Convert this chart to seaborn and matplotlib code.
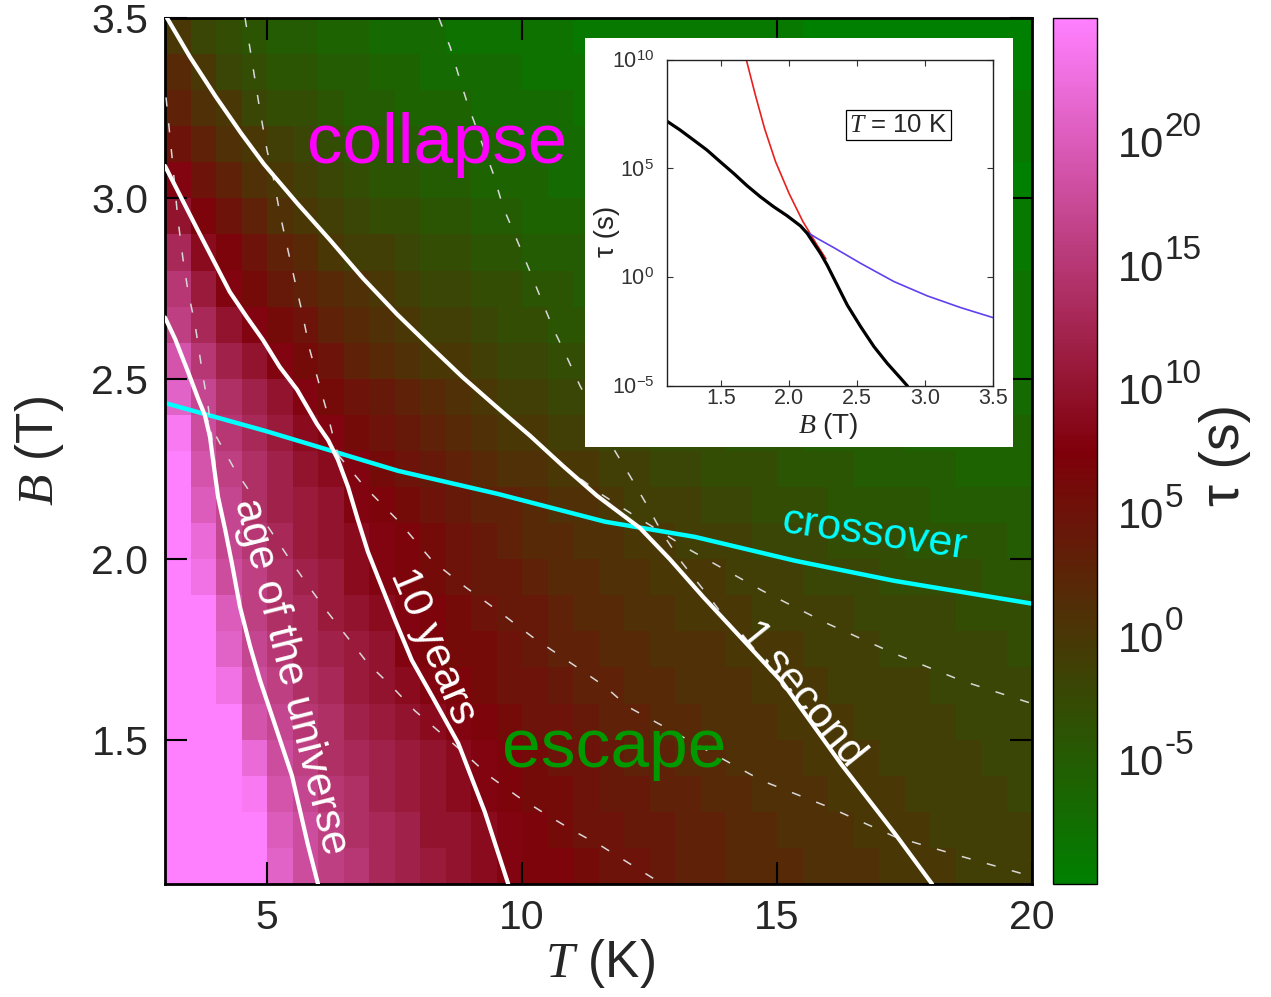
import numpy as np
import pandas as pd
import matplotlib
matplotlib.use("Agg")
import matplotlib.pyplot as plt
import seaborn as sns
from matplotlib.colors import LinearSegmentedColormap

# ---------------- data ----------------
# heat-map cells: temperature T (K) and field B (T) at the cell centres
T_cells = [3.25, 3.75, 4.25, 4.75, 5.25, 5.75, 6.25, 6.75, 7.25, 7.75, 8.25, 8.75,
           9.25, 9.75, 10.25, 10.75, 11.25, 11.75, 12.25, 12.75, 13.25, 13.75, 14.25,
           14.75, 15.25, 15.75, 16.25, 16.75, 17.25, 17.75, 18.25, 18.75, 19.25, 19.75]
B_cells = [3.45, 3.35, 3.25, 3.15, 3.05, 2.95, 2.85, 2.75, 2.65, 2.55, 2.45, 2.35,
           2.25, 2.15, 2.05, 1.95, 1.85, 1.75, 1.65, 1.55, 1.45, 1.35, 1.25, 1.15]
# log10 of the lifetime tau (s) in every cell, one row per B value (top row B = 3.45)
log10_tau = [
    [0, -2, -3, -4, -5, -5, -6, -6, -7, -7, -7, -8, -8, -8, -8, -8, -9, -9, -9, -9, -9, -9, -9, -9, -9, -10, -10, -10, -10, -10, -10, -10, -10, -10],
    [2, 0, -2, -3, -4, -4, -5, -5, -6, -6, -7, -7, -7, -7, -8, -8, -8, -8, -8, -9, -9, -9, -9, -9, -9, -9, -9, -9, -9, -10, -10, -10, -10, -10],
    [3, 1, 0, -2, -3, -3, -4, -5, -5, -6, -6, -6, -7, -7, -7, -7, -8, -8, -8, -8, -8, -8, -9, -9, -9, -9, -9, -9, -9, -9, -9, -9, -9, -9],
    [5, 3, 1, 0, -1, -2, -3, -4, -4, -5, -5, -6, -6, -6, -7, -7, -7, -7, -7, -8, -8, -8, -8, -8, -8, -8, -9, -9, -9, -9, -9, -9, -9, -9],
    [8, 5, 3, 1, 0, -1, -2, -3, -4, -4, -5, -5, -6, -6, -6, -7, -7, -7, -7, -8, -8, -8, -8, -8, -9, -9, -9, -9, -9, -9, -9, -9, -9, -10],
    [10, 7, 5, 3, 1, 0, -1, -2, -3, -3, -4, -4, -5, -5, -6, -6, -6, -6, -7, -7, -7, -7, -8, -8, -8, -8, -8, -8, -9, -9, -9, -9, -9, -9],
    [13, 9, 7, 5, 3, 2, 0, -1, -1, -2, -3, -3, -4, -4, -5, -5, -5, -6, -6, -6, -7, -7, -7, -7, -7, -8, -8, -8, -8, -8, -8, -8, -8, -9],
    [15, 11, 8, 6, 4, 3, 2, 1, 0, -1, -2, -2, -3, -3, -4, -4, -5, -5, -5, -6, -6, -6, -6, -7, -7, -7, -7, -7, -7, -8, -8, -8, -8, -8],
    [16, 13, 10, 8, 6, 5, 3, 2, 1, 0, -1, -1, -2, -3, -3, -4, -4, -4, -5, -5, -5, -6, -6, -6, -6, -7, -7, -7, -7, -7, -8, -8, -8, -8],
    [19, 15, 12, 10, 8, 6, 5, 3, 2, 1, 0, 0, -1, -2, -2, -3, -3, -4, -4, -4, -5, -5, -5, -6, -6, -6, -6, -7, -7, -7, -7, -7, -7, -8],
    [21, 17, 14, 12, 10, 8, 6, 5, 4, 3, 2, 1, 0, -1, -1, -2, -2, -3, -3, -4, -4, -4, -5, -5, -5, -6, -6, -6, -6, -6, -7, -7, -7, -7],
    [24, 18, 15, 13, 11, 9, 8, 6, 5, 4, 3, 2, 1, 0, 0, -1, -1, -2, -2, -3, -3, -3, -4, -4, -4, -5, -5, -5, -5, -6, -6, -6, -6, -6],
    [26, 19, 16, 14, 12, 10, 9, 8, 6, 5, 4, 3, 2, 1, 1, 0, 0, -1, -1, -2, -2, -3, -3, -3, -4, -4, -4, -5, -5, -5, -5, -6, -6, -6],
    [26, 20, 17, 14, 12, 11, 10, 8, 7, 6, 5, 4, 3, 3, 2, 1, 1, 0, -1, -1, -1, -2, -2, -3, -3, -3, -4, -4, -4, -4, -5, -5, -5, -5],
    [26, 22, 17, 15, 13, 11, 10, 9, 8, 7, 6, 5, 4, 3, 2, 2, 1, 1, 0, 0, -1, -1, -1, -2, -2, -2, -3, -3, -3, -4, -4, -4, -4, -5],
    [26, 23, 18, 16, 14, 12, 11, 9, 8, 7, 6, 5, 4, 4, 3, 2, 2, 1, 1, 0, 0, 0, -1, -1, -1, -2, -2, -2, -3, -3, -3, -3, -4, -4],
    [26, 25, 20, 16, 14, 13, 11, 10, 9, 8, 7, 6, 5, 4, 4, 3, 2, 2, 1, 1, 0, 0, 0, -1, -1, -1, -1, -2, -2, -2, -2, -3, -3, -3],
    [27, 26, 21, 17, 15, 13, 12, 11, 10, 8, 7, 6, 6, 5, 4, 3, 3, 2, 2, 1, 1, 1, 0, 0, 0, -1, -1, -1, -2, -2, -2, -2, -2, -3],
    [27, 26, 23, 18, 16, 14, 13, 11, 10, 9, 8, 7, 6, 5, 5, 4, 3, 3, 2, 2, 1, 1, 1, 0, 0, 0, -1, -1, -1, -1, -2, -2, -2, -2],
    [27, 26, 25, 19, 17, 15, 14, 12, 11, 10, 9, 8, 7, 6, 5, 5, 4, 3, 3, 2, 2, 1, 1, 1, 0, 0, 0, -1, -1, -1, -1, -2, -2, -2],
    [27, 27, 26, 22, 18, 16, 14, 13, 12, 11, 10, 9, 8, 7, 6, 5, 5, 4, 3, 3, 2, 2, 1, 1, 1, 0, 0, 0, -1, -1, -1, -1, -2, -2],
    [27, 27, 26, 24, 19, 17, 15, 14, 12, 11, 10, 9, 8, 7, 6, 6, 5, 4, 4, 3, 3, 2, 2, 1, 1, 1, 0, 0, 0, -1, -1, -1, -1, -2],
    [27, 27, 26, 25, 20, 18, 16, 14, 13, 12, 10, 10, 9, 8, 7, 6, 5, 5, 4, 4, 3, 3, 2, 2, 1, 1, 1, 0, 0, 0, -1, -1, -1, -1],
    [27, 27, 27, 25, 21, 18, 16, 15, 13, 12, 11, 10, 9, 8, 7, 7, 6, 5, 5, 4, 3, 3, 2, 2, 2, 1, 1, 1, 0, 0, 0, -1, -1, -1],
]
cbar_ticks = [-5, 0, 5, 10, 15, 20]
cbar_exponents = ["-5", "0", "5", "10", "15", "20"]

# solid white contours of the total lifetime: 1 second, 10 years, age of the universe
sec1_T = [3.04, 3.49, 4.0, 4.49, 4.94, 5.59, 6.24, 6.88, 7.55, 8.20, 8.84, 9.51, 10.16, 10.80,
          11.47, 12.31, 12.9, 13.55, 14.18, 15.10, 16.27, 17.31, 18.04]
sec1_B = [3.50, 3.392, 3.281, 3.181, 3.095, 2.987, 2.884, 2.779, 2.679, 2.590, 2.504, 2.421, 2.342,
          2.259, 2.176, 2.087, 2.0, 1.896, 1.80, 1.66, 1.43, 1.24, 1.10]
yr10_T = [3.0, 3.65, 4.27, 4.60, 4.92, 5.25, 5.59, 5.98, 6.2, 6.39, 6.59, 6.78, 6.98, 7.25, 7.51,
          7.84, 8.24, 8.75, 9.27, 9.73]
yr10_B = [3.09, 2.91, 2.741, 2.672, 2.608, 2.533, 2.470, 2.375, 2.33, 2.276, 2.20, 2.11, 2.02, 1.924,
          1.832, 1.72, 1.62, 1.49, 1.30, 1.10]
aou_T = [3.0, 3.2, 3.45, 3.65, 3.78, 3.88, 3.95, 4.04, 4.18, 4.31, 4.47, 4.67, 4.86, 5.10, 5.49, 5.80, 6.0]
aou_B = [2.67, 2.61, 2.52, 2.445, 2.40, 2.34, 2.267, 2.173, 2.082, 1.99, 1.868, 1.758, 1.666, 1.565,
         1.40, 1.21, 1.10]
# cyan crossover line
cross_T = [3.0, 4.96, 7.57, 9.53, 11.63, 13.39, 15.35, 17.31, 20.0]
cross_B = [2.433, 2.356, 2.245, 2.181, 2.104, 2.062, 1.996, 1.94, 1.877]

# dashed contours of the two separate mechanisms (collapse / escape)
col_1s_T = [3.04, 3.49, 4.0, 4.49, 4.94, 5.59, 6.24, 6.88, 7.55, 8.20, 8.84, 9.51, 10.16, 10.80,
            11.57, 12.18, 12.76, 13.29, 13.88, 14.71, 16.0, 17.31, 18.63, 20.0]
col_1s_B = [3.50, 3.392, 3.281, 3.181, 3.095, 2.987, 2.884, 2.779, 2.679, 2.590, 2.504, 2.421, 2.342,
            2.259, 2.179, 2.123, 2.073, 2.026, 1.979, 1.913, 1.821, 1.738, 1.663, 1.60]
esc_1s_T = [8.37, 8.59, 8.78, 8.94, 9.43, 9.63, 9.90, 10.12, 10.35, 10.61, 10.88, 11.14, 11.78, 12.12,
            12.45, 12.76, 13.14, 13.7, 14.18, 15.10, 16.27, 17.31, 18.04]
esc_1s_B = [3.50, 3.42, 3.33, 3.259, 3.071, 2.976, 2.885, 2.81, 2.73, 2.64, 2.56, 2.48, 2.31, 2.23,
            2.15, 2.07, 1.99, 1.89, 1.80, 1.66, 1.43, 1.24, 1.10]
col_10y_T = [3.0, 3.65, 4.27, 4.60, 4.92, 5.25, 5.59, 5.98, 6.27, 6.92, 7.57, 8.24, 8.88, 9.53, 10.2,
             11.18, 11.63, 12.08, 13.39, 14.71, 16.0, 17.31, 18.63, 20.0]
col_10y_B = [3.09, 2.91, 2.741, 2.672, 2.608, 2.533, 2.470, 2.375, 2.31, 2.20, 2.107, 1.996, 1.924,
             1.857, 1.785, 1.691, 1.647, 1.591, 1.489, 1.386, 1.314, 1.231, 1.176, 1.121]
esc_10y_T = [4.57, 4.86, 5.0, 5.12, 5.25, 5.41, 5.55, 5.69, 5.84, 6.0, 6.18, 6.35, 6.55, 6.78, 6.98,
             7.25, 7.51, 7.84, 8.24, 8.75, 9.27, 9.73]
esc_10y_B = [3.50, 3.245, 3.134, 3.06, 2.96, 2.857, 2.769, 2.683, 2.58, 2.497, 2.406, 2.31, 2.22, 2.11,
             2.02, 1.924, 1.832, 1.72, 1.62, 1.49, 1.30, 1.10]
col_aou_T = [3.0, 3.2, 3.45, 3.65, 3.78, 4.04, 4.37, 4.73, 5.02, 5.41, 5.78, 6.18, 6.57, 6.98, 7.45,
             7.90, 8.88, 9.37, 9.92, 10.45, 11.0, 11.57, 12.75]
col_aou_B = [2.67, 2.61, 2.52, 2.445, 2.40, 2.331, 2.248, 2.173, 2.090, 2.007, 1.932, 1.855, 1.785,
             1.711, 1.647, 1.580, 1.461, 1.398, 1.342, 1.295, 1.248, 1.204, 1.10]
esc_aou_T = [3.02, 3.14, 3.25, 3.35, 3.45, 3.59, 3.73, 3.85, 3.95, 4.04, 4.18, 4.31, 4.47, 4.67, 4.86,
             5.10, 5.49, 5.80, 6.0]
esc_aou_B = [3.28, 3.112, 2.946, 2.835, 2.744, 2.650, 2.52, 2.42, 2.30, 2.19, 2.082, 1.99, 1.868,
             1.758, 1.666, 1.565, 1.40, 1.21, 1.10]

# inset, T = 10 K: log10(tau / s) against B
ins_B_black = [1.10, 1.198, 1.297, 1.395, 1.493, 1.591, 1.690, 1.788, 1.886, 1.984, 2.083, 2.132,
               2.181, 2.230, 2.279, 2.353, 2.427, 2.525, 2.623, 2.721, 2.820, 2.869]
ins_logtau_black = [7.18, 6.77, 6.31, 5.85, 5.31, 4.78, 4.21, 3.70, 3.24, 2.83, 2.36, 2.02, 1.56,
                    1.10, 0.56, -0.36, -1.28, -2.27, -3.19, -3.96, -4.65, -5.0]
ins_B_red = [1.68, 1.685, 1.75, 1.82, 1.90, 2.0, 2.1, 2.2, 2.27]
ins_logtau_red = [10.12, 10.0, 8.41, 6.82, 5.31, 3.84, 2.57, 1.53, 0.85]
ins_B_blue = [2.107, 2.205, 2.328, 2.525, 2.770, 3.016, 3.262, 3.50]
ins_logtau_blue = [2.17, 1.79, 1.36, 0.64, -0.20, -0.86, -1.40, -1.86]

# ---------------- figure ----------------
sns.set_theme(style="ticks")
plt.rcParams.update({
    "font.family": ["Liberation Sans", "DejaVu Sans"],
    "mathtext.fontset": "custom",
    "mathtext.rm": "Liberation Sans",
    "mathtext.it": "Liberation Serif:italic",
    "mathtext.sf": "Liberation Sans",
    "axes.linewidth": 2.0,
})
W, H = 1271, 997
fig = plt.figure(figsize=(W / 100, H / 100), dpi=100)
fig.patch.set_facecolor("white")

def rect(x0, y0, x1, y1):
    return [x0 / W, 1 - y1 / H, (x1 - x0) / W, (y1 - y0) / H]

main_rect = rect(165, 18, 1032, 884)
ax_hm = fig.add_axes(main_rect, zorder=0)
cax = fig.add_axes(rect(1053, 18, 1097, 884))
cmap = LinearSegmentedColormap.from_list("tau", [(0.0, 0.5, 0.0), (0.5, 0.0, 0.04), (1.0, 0.5, 1.0)])
df = pd.DataFrame(log10_tau, index=B_cells, columns=T_cells)
sns.heatmap(df, ax=ax_hm, cmap=cmap, vmin=-10, vmax=25, cbar_ax=cax,
            xticklabels=False, yticklabels=False, linewidths=0,
            cbar_kws={"ticks": cbar_ticks})
ax_hm.set_xlabel(""); ax_hm.set_ylabel("")
for s in ax_hm.spines.values():
    s.set_visible(False)
ax_hm.tick_params(left=False, bottom=False)

cbar = ax_hm.collections[0].colorbar
cbar.set_ticks(cbar_ticks)
cbar.set_ticklabels([""] * len(cbar_ticks))
cax.tick_params(direction="in", length=13, width=1.0, left=True, right=True,
                labelleft=False, labelright=False, color="black")
cbar.outline.set_visible(True)
cbar.outline.set_linewidth(1.0)
cbar.outline.set_edgecolor("black")
for v, e in zip(cbar_ticks, cbar_exponents):
    cax.annotate("10", xy=(1, v), xycoords=("axes fraction", "data"), xytext=(15, -3),
                 textcoords="offset points", ha="left", va="center", fontsize=30,
                 annotation_clip=False)
    cax.annotate(e, xy=(1, v), xycoords=("axes fraction", "data"), xytext=(48.5, 10.5),
                 textcoords="offset points", ha="left", va="center", fontsize=24,
                 annotation_clip=False)

ax = fig.add_axes(main_rect, facecolor="none", zorder=1)

def draw(axis, x, y, **kw):
    sns.lineplot(x=x, y=y, sort=False, estimator=None, errorbar=None, ax=axis, **kw)

draw(ax, cross_T, cross_B, color="#00ffff", lw=3.2, zorder=2)
dash = (0, (6, 11))
for xs, ys in [(col_1s_T, col_1s_B), (esc_1s_T, esc_1s_B), (col_10y_T, col_10y_B),
               (esc_10y_T, esc_10y_B), (col_aou_T, col_aou_B), (esc_aou_T, esc_aou_B)]:
    draw(ax, xs, ys, color="#d8d8d8", lw=1.1, linestyle=dash, zorder=3)
for xs, ys in [(sec1_T, sec1_B), (yr10_T, yr10_B), (aou_T, aou_B)]:
    draw(ax, xs, ys, color="white", lw=3.0, zorder=4)

ax.set_xlim(3, 20)
ax.set_ylim(1.1, 3.5)
ax.set_xticks([5, 10, 15, 20])
ax.set_xticklabels(["5", "10", "15", "20"])
ax.set_yticks([1.5, 2.0, 2.5, 3.0, 3.5])
ax.set_yticklabels(["1.5", "2.0", "2.5", "3.0", "3.5"])
ax.tick_params(direction="in", length=16, width=1.5, top=True, right=True,
               labelsize=29.5, color="black")
ax.tick_params(axis="x", pad=11)
ax.tick_params(axis="y", pad=12)
ax.set_xlabel(""); ax.set_ylabel("")
for s in ax.spines.values():
    s.set_visible(True); s.set_linewidth(2.0); s.set_color("black")

ax.text(5.78, 3.098, "collapse", color="#ff00ff", fontsize=51, ha="left", va="baseline", zorder=5)
ax.text(9.61, 1.425, "escape", color="#009900", fontsize=50, ha="left", va="baseline", zorder=5)
ax.text(15.06, 2.076, "crossover", color="#00ffff", fontsize=31, ha="left", va="baseline",
        rotation=-8.2, rotation_mode="anchor", zorder=5)
ax.text(5.45, 1.675, "age of the universe", color="white", fontsize=31, ha="center", va="center",
        rotation=-75.8, rotation_mode="anchor", zorder=5)
ax.text(8.24, 1.758, "10 years", color="white", fontsize=31, ha="center", va="center",
        rotation=-67, rotation_mode="anchor", zorder=5)
ax.text(15.49, 1.627, "1 second", color="white", fontsize=31, ha="center", va="center",
        rotation=-51, rotation_mode="anchor", zorder=5)

fig.text(600 / W, 1 - 963 / H, "$T$ (K)", fontsize=37, ha="center", va="center")
fig.text(40 / W, 1 - 451 / H, "$B$ (T)", fontsize=37, ha="center", va="center", rotation=90)
fig.text(1225 / W, 1 - 455 / H, "τ (s)", fontsize=40, ha="center", va="center", rotation=90)

# inset
bg = fig.add_axes(rect(585, 38, 1013, 447), zorder=5)
bg.set_facecolor("white"); bg.set_xticks([]); bg.set_yticks([])
for s in bg.spines.values():
    s.set_visible(False)
ins = fig.add_axes(rect(666.7, 59.7, 993.3, 386), zorder=6)
ins.set_facecolor("white")
ins.set_yscale("log")
draw(ins, ins_B_red, [10.0 ** v for v in ins_logtau_red], color="#e8201c", lw=1.2)
draw(ins, ins_B_blue, [10.0 ** v for v in ins_logtau_blue], color="#6040f0", lw=1.2)
draw(ins, ins_B_black, [10.0 ** v for v in ins_logtau_black], color="black", lw=2.3)
ins.set_xlim(1.1, 3.5)
ins.set_ylim(1e-5, 1e10)
ins.set_xticks([1.5, 2.0, 2.5, 3.0, 3.5])
ins.set_xticklabels(["1.5", "2.0", "2.5", "3.0", "3.5"])
ins.set_yticks([1e-5, 1e0, 1e5, 1e10])
ins.set_yticklabels([r"$10^{-5}$", r"$10^{0}$", r"$10^{5}$", r"$10^{10}$"])
ins.minorticks_off()
ins.tick_params(direction="in", length=4.5, width=0.8, top=True, right=True,
                labelsize=15.5, color="#333333", labelcolor="#333333")
ins.tick_params(axis="x", pad=1.5)
ins.tick_params(axis="y", pad=9)
ins.set_xlabel(""); ins.set_ylabel("")
for s in ins.spines.values():
    s.set_linewidth(1.0); s.set_color("#222222")
ins.text(0.71, 0.80, "$T$ = 10 K", transform=ins.transAxes, ha="center", va="center", fontsize=18.5,
         bbox=dict(boxstyle="square,pad=0.12", fc="white", ec="black", lw=0.9))
fig.text(607 / W, 1 - 231 / H, "τ (s)", fontsize=20, ha="center", va="center", rotation=90, zorder=7)
fig.text(828 / W, 1 - 426 / H, "$B$ (T)", fontsize=20, ha="center", va="center", zorder=7)

fig.savefig("out.png", dpi=100)
